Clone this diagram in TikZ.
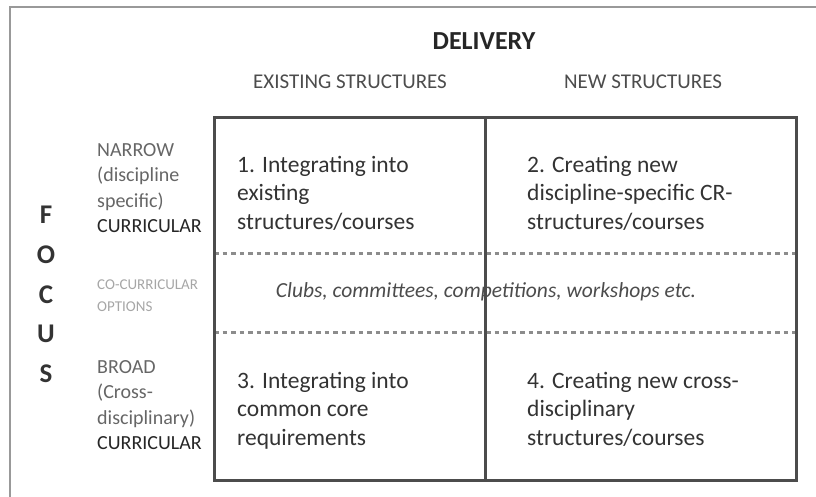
\documentclass[tikz,border=0pt]{standalone}
\usepackage{fontspec}
\setmainfont{Carlito}
\usetikzlibrary{positioning}

\begin{document}
\begin{tikzpicture}[x=1pt, y=-1pt,
	cell/.style={anchor=north west, align=left, inner sep=0pt, text=black!80,
		font=\fontsize{23.5}{28.5}\selectfont},
	head/.style={inner sep=0pt, text=black!70, font=\fontsize{21}{25}\selectfont},
	side/.style={anchor=north west, align=left, inner sep=0pt, text=black!60,
		font=\fontsize{20}{25.5}\selectfont},
	letter/.style={inner sep=0pt, text=black!80, font=\bfseries\fontsize{27}{30}\selectfont},
	grid/.style={draw=black!70, line width=3pt},
	divide/.style={draw=black!45, line width=3pt, dash pattern=on 4.5pt off 4pt}]

	\useasboundingbox (0,0) rectangle (816,497);

	% Frame round the figure
	\coordinate (fr) at (816,7);
	\coordinate (fc) at (10,7);
	\coordinate (fb) at (10,497);
	\draw [black!40, line width=2pt] (fr) -- (fc) -- (fb);

	% Grid {corners, middle, dashed rows}
	\coordinate (g1) at (214,118);
	\coordinate (g2) at (796,480);
	\coordinate (m1) at (485,118);
	\coordinate (m2) at (485,480);
	\coordinate (d1l) at (214,253);
	\coordinate (d1r) at (796,253);
	\coordinate (d2l) at (214,332);
	\coordinate (d2r) at (796,332);

	\draw [divide] (d1l) -- (d1r);
	\draw [divide] (d2l) -- (d2r);
	\draw [grid] (g1) rectangle (g2);
	\draw [grid] (m1) -- (m2);

	% Top headings
	\node [head, text=black!85, font=\bfseries\fontsize{26}{30}\selectfont]
		(delivery) at (484,41) {DELIVERY};
	\node [head] (existing) at (350,82) {EXISTING STRUCTURES};
	\node [head] (new) at (643,82) {NEW STRUCTURES};

	% Cells {c1, c2, c3, c4}
	\node [cell] (c1) at (237,156) {1. Integrating into\\existing\\structures/courses};
	\node [cell] (c2) at (527,156) {2. Creating new\\discipline-specific CR-\\structures/courses};
	\node [cell] (c3) at (237,372) {3. Integrating into\\common core\\requirements};
	\node [cell] (c4) at (527,372) {4. Creating new cross-\\disciplinary\\structures/courses};

	% Co-curricular row
	\node [cell, anchor=center, text=black!70, font=\itshape\fontsize{21.5}{25}\selectfont]
		(clubs) at (486,292) {Clubs, committees, competitions, workshops etc.};

	% Side labels
	\node [side] (narrow) at (97,143)
		{NARROW\\(discipline\\specific)\\\textcolor{black!85}{CURRICULAR}};
	\node [side, text=black!35, font=\fontsize{15}{22}\selectfont]
		(cocurr) at (97,280) {CO-CURRICULAR\\OPTIONS};
	\node [side] (broad) at (97,360)
		{BROAD\\(Cross-\\disciplinary)\\\textcolor{black!85}{CURRICULAR}};

	% FOCUS down the left
	\foreach \l [count=\i] in {F,O,C,U,S}
		\node [letter] (f\i) at (46,175.25+39.75*\i) {\l};

\end{tikzpicture}
\end{document}
